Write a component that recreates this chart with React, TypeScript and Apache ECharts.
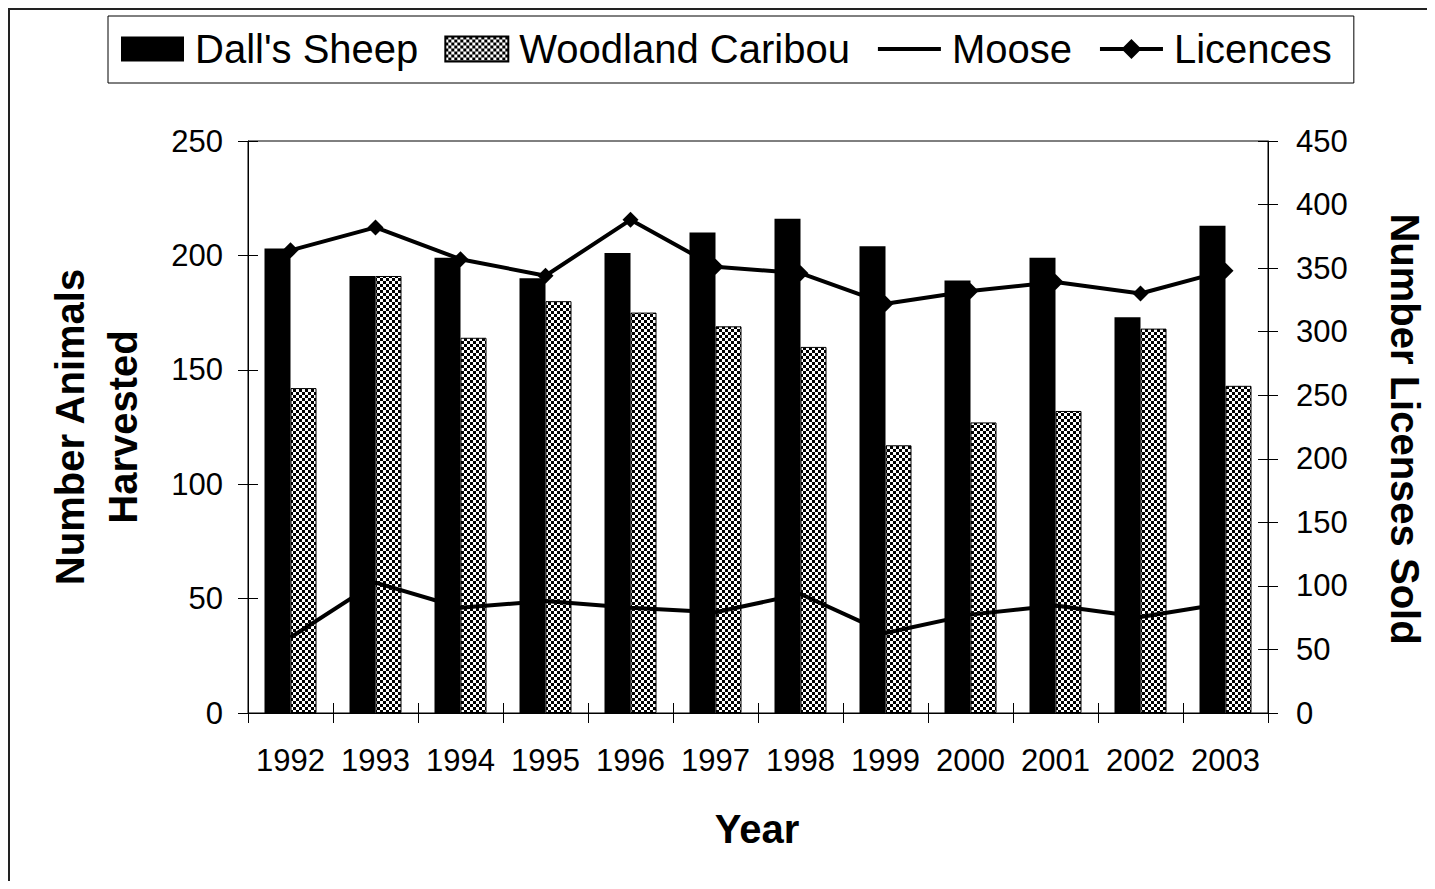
import React, { useEffect, useRef } from 'react';
import * as echarts from 'echarts';

const categories = ['1992', '1993', '1994', '1995', '1996', '1997', '1998', '1999', '2000', '2001', '2002', '2003'];
const dallsSheep = [203, 191, 199, 190, 201, 210, 216, 204, 189, 199, 173, 213];
const woodlandCaribou = [142, 191, 164, 180, 175, 169, 160, 117, 127, 132, 168, 143];
const moose = [33, 57, 46, 49, 46, 44, 52, 35, 43, 47, 42, 48];
const licences = [364, 382, 357, 344, 388, 351, 346, 322, 332, 339, 330, 348];

const leftTicks = { min: 0, max: 250, interval: 50 };
const rightTicks = { min: 0, max: 450, interval: 50 };

const FONT = "'Liberation Sans', Arial, sans-serif";

function makeChecker(): HTMLCanvasElement {
  const cv = document.createElement('canvas');
  cv.width = 6;
  cv.height = 6;
  const ctx = cv.getContext('2d')!;
  ctx.fillStyle = '#fff';
  ctx.fillRect(0, 0, 6, 6);
  ctx.fillStyle = '#000';
  ctx.fillRect(0, 0, 3, 3);
  ctx.fillRect(3, 3, 3, 3);
  return cv;
}

export default function App() {
  const ref = useRef<HTMLDivElement>(null);
  useEffect(() => {
    const chart = echarts.init(ref.current!, null, { renderer: 'svg' });
    const checker = makeChecker();
    const axisLineStyle = { color: '#000', width: 1 };
    const option: any = {
      animation: false,
      textStyle: { fontFamily: FONT, color: '#000' },
      grid: {
        left: 240,
        top: 133,
        width: 1020,
        height: 572,
        show: true,
        borderColor: '#000',
        borderWidth: 1,
        backgroundColor: 'transparent',
      },
      legend: {
        left: 100,
        top: 8,
        orient: 'horizontal',
        padding: [13, 22, 14, 13],
        borderColor: '#000',
        borderWidth: 1,
        itemWidth: 63,
        itemHeight: 25,
        itemGap: 26,
        textStyle: { fontSize: 40, color: '#000', fontFamily: FONT, padding: [0, 0, 0, 6] },
        data: [
          { name: "Dall's Sheep", icon: 'rect' },
          { name: 'Woodland Caribou', icon: 'rect' },
          {
            name: 'Moose',
            itemStyle: { color: 'transparent', borderColor: 'transparent' },
            lineStyle: { width: 4, color: '#000', opacity: 1 },
          },
          { name: 'Licences', lineStyle: { width: 4, color: '#000', opacity: 1 } },
        ],
      },
      xAxis: [
        {
          type: 'category',
          data: categories,
          boundaryGap: true,
          axisLine: { show: true, lineStyle: axisLineStyle },
          axisTick: { show: true, inside: false, length: 10, lineStyle: axisLineStyle },
          axisLabel: { interval: 0, fontSize: 31, color: '#000', margin: 32, fontFamily: FONT },
        },
        {
          type: 'category',
          data: categories,
          position: 'bottom',
          boundaryGap: true,
          axisLine: { show: false },
          axisTick: { show: true, inside: true, length: 10, lineStyle: axisLineStyle },
          axisLabel: { show: false },
        },
      ],
      yAxis: [
        {
          type: 'value',
          position: 'left',
          ...leftTicks,
          axisLine: { show: true, lineStyle: axisLineStyle },
          axisTick: { show: true, inside: false, length: 10, lineStyle: axisLineStyle },
          axisLabel: { fontSize: 31, color: '#000', margin: 25, fontFamily: FONT },
          splitLine: { show: false },
        },
        {
          type: 'value',
          position: 'right',
          ...rightTicks,
          axisLine: { show: true, lineStyle: axisLineStyle },
          axisTick: { show: true, inside: false, length: 10, lineStyle: axisLineStyle },
          axisLabel: { fontSize: 31, color: '#000', margin: 28, fontFamily: FONT },
          splitLine: { show: false },
        },
        {
          type: 'value',
          position: 'left',
          ...leftTicks,
          axisLine: { show: false },
          axisTick: { show: true, inside: true, length: 10, lineStyle: axisLineStyle },
          axisLabel: { show: false },
          splitLine: { show: false },
        },
        {
          type: 'value',
          position: 'right',
          ...rightTicks,
          axisLine: { show: false },
          axisTick: { show: true, inside: true, length: 10, lineStyle: axisLineStyle },
          axisLabel: { show: false },
          splitLine: { show: false },
        },
      ],
      series: [
        {
          name: "Dall's Sheep",
          type: 'bar',
          xAxisIndex: 0,
          yAxisIndex: 0,
          data: dallsSheep,
          barWidth: 26,
          barGap: '0%',
          itemStyle: { color: '#000' },
        },
        {
          name: 'Woodland Caribou',
          type: 'bar',
          xAxisIndex: 0,
          yAxisIndex: 0,
          data: woodlandCaribou,
          barWidth: 26,
          barGap: '0%',
          itemStyle: {
            color: { image: checker, repeat: 'repeat' },
            borderColor: '#000',
            borderWidth: 1,
          },
        },
        {
          name: 'Moose',
          type: 'line',
          xAxisIndex: 0,
          yAxisIndex: 0,
          data: moose,
          symbol: 'none',
          lineStyle: { color: '#000', width: 4 },
          itemStyle: { color: '#000' },
          z: 5,
        },
        {
          name: 'Licences',
          type: 'line',
          xAxisIndex: 0,
          yAxisIndex: 1,
          data: licences,
          symbol: 'diamond',
          symbolSize: 16,
          lineStyle: { color: '#000', width: 4 },
          itemStyle: { color: '#000' },
          z: 6,
        },
      ],
      graphic: [
        { type: 'line', shape: { x1: 0, y1: 1, x2: 1419, y2: 1 }, style: { stroke: '#222', lineWidth: 2 } },
        { type: 'line', shape: { x1: 1, y1: 0, x2: 1, y2: 873 }, style: { stroke: '#222', lineWidth: 2 } },
        {
          type: 'text',
          x: 88.5,
          y: 419,
          rotation: Math.PI / 2,
          style: {
            text: 'Number Animals\nHarvested',
            font: `bold 40px ${FONT}`,
            fill: '#000',
            align: 'center',
            verticalAlign: 'middle',
            textAlign: 'center',
            textVerticalAlign: 'middle',
            lineHeight: 53,
          },
        },
        {
          type: 'text',
          x: 1397,
          y: 421,
          rotation: -Math.PI / 2,
          style: {
            text: 'Number Licenses Sold',
            font: `bold 40px ${FONT}`,
            fill: '#000',
            align: 'center',
            verticalAlign: 'middle',
            textAlign: 'center',
            textVerticalAlign: 'middle',
          },
        },
        {
          type: 'text',
          x: 749,
          y: 821,
          style: {
            text: 'Year',
            font: `bold 40px ${FONT}`,
            fill: '#000',
            align: 'center',
            verticalAlign: 'middle',
            textAlign: 'center',
            textVerticalAlign: 'middle',
          },
        },
      ],
    };
    chart.setOption(option);
    return () => chart.dispose();
  }, []);
  return <div ref={ref} style={{ width: 1419, height: 873 }} />;
}
